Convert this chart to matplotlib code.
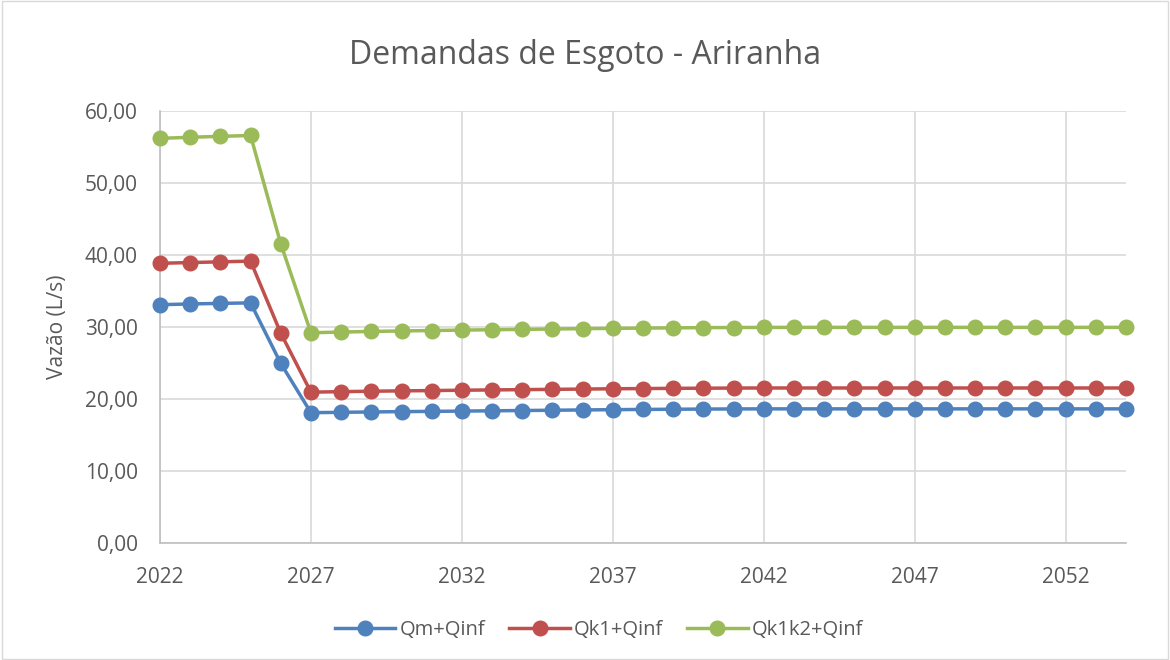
import matplotlib.pyplot as plt
from matplotlib.patches import Rectangle

years = list(range(2022, 2055))

qm_qinf = [33.10, 33.20, 33.28, 33.35, 24.95, 18.10, 18.15, 18.20, 18.25, 18.28,
           18.32, 18.36, 18.40, 18.44, 18.48, 18.52, 18.55, 18.58, 18.60, 18.62,
           18.63, 18.63, 18.63, 18.63, 18.63, 18.63, 18.63, 18.63, 18.63, 18.63,
           18.63, 18.63, 18.63]
qk1_qinf = [38.85, 38.95, 39.05, 39.15, 29.15, 20.95, 21.02, 21.08, 21.13, 21.17,
            21.22, 21.26, 21.30, 21.34, 21.38, 21.42, 21.45, 21.48, 21.50, 21.52,
            21.53, 21.53, 21.53, 21.53, 21.53, 21.53, 21.53, 21.53, 21.53, 21.53,
            21.53, 21.53, 21.53]
qk1k2_qinf = [56.20, 56.35, 56.48, 56.60, 41.55, 29.20, 29.30, 29.38, 29.45, 29.51,
              29.57, 29.62, 29.67, 29.72, 29.77, 29.81, 29.85, 29.88, 29.91, 29.93,
              29.94, 29.95, 29.95, 29.95, 29.95, 29.95, 29.95, 29.95, 29.95, 29.95,
              29.95, 29.95, 29.95]

series = [("Qm+Qinf", qm_qinf, "#4F81BD"),
          ("Qk1+Qinf", qk1_qinf, "#C0504D"),
          ("Qk1k2+Qinf", qk1k2_qinf, "#9BBB59")]

plt.rcParams['font.family'] = ['Open Sans', 'DejaVu Sans']
txt = "#595959"

fig = plt.figure(figsize=(11.7, 6.6), dpi=100)
ax = fig.add_axes([160/1170, 1 - 543/660, (1126-160)/1170, (543-111)/660])

for name, vals, col in series:
    ax.plot(years, vals, color=col, lw=2.5, marker='o', ms=10.5, label=name,
            clip_on=False, zorder=3)

ax.set_xlim(2022, 2054)
ax.set_ylim(0, 60)
ax.set_xticks(range(2022, 2054, 5))
ax.set_yticks(range(0, 61, 10))
ax.set_yticklabels([f"{v},00" for v in range(0, 61, 10)])
ax.grid(True, color="#D9D9D9", lw=1.2)
ax.set_axisbelow(True)
for s in ["top", "right"]:
    ax.spines[s].set_visible(False)
for s in ["left", "bottom"]:
    ax.spines[s].set_color("#BFBFBF")
    ax.spines[s].set_linewidth(1.2)
ax.tick_params(length=0, labelsize=15, colors=txt)
ax.tick_params(axis='y', pad=16)
ax.tick_params(axis='x', pad=17)
ax.set_ylabel("Vazão (L/s)", fontsize=15, color=txt, labelpad=12)

fig.text(0.5, 1 - 55/660, "Demandas de Esgoto - Ariranha", ha='center', va='center',
         fontsize=23, color=txt)

leg = fig.legend(loc='center', bbox_to_anchor=(0.512, 1 - 630/660), ncol=3,
                 frameon=False, fontsize=14.5, handlelength=3, columnspacing=1.2,
                 handletextpad=0.2)
for t in leg.get_texts():
    t.set_color(txt)

fig.patches.append(Rectangle((0.002, 0.002), 0.996, 0.996, transform=fig.transFigure,
                             fill=False, edgecolor="#D9D9D9", lw=1))

fig.savefig("out.png", dpi=100)
